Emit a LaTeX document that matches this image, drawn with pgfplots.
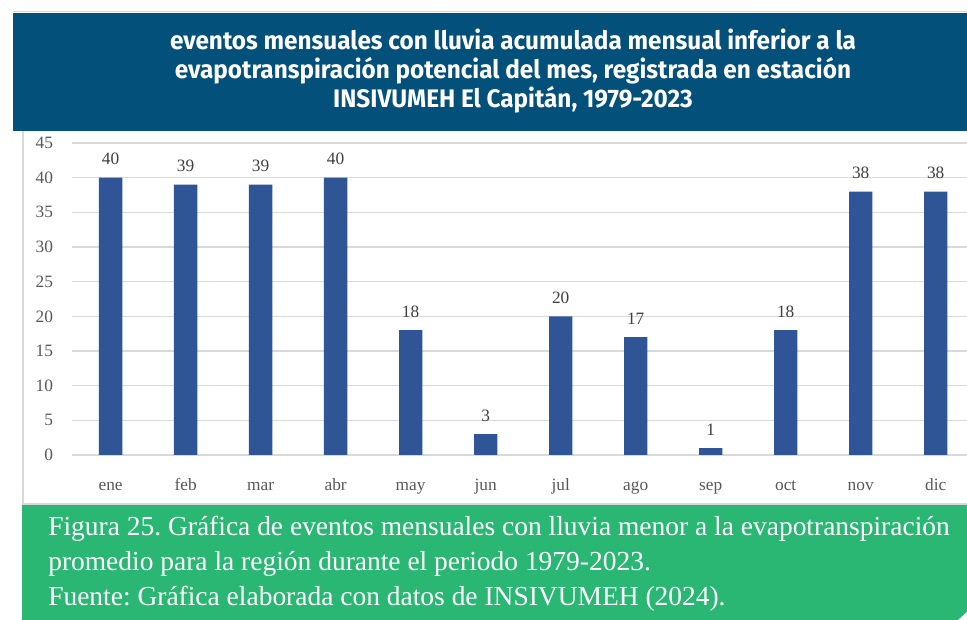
\documentclass[border=0pt]{standalone}
\usepackage{fontspec}
\setmainfont{Liberation Serif}
\newfontfamily\titlefont[FakeStretch=0.96]{Fira Sans}
\usepackage{pgfplots}
\pgfplotsset{compat=1.18}
\definecolor{banner}{RGB}{3,80,122}
\definecolor{greenbox}{RGB}{42,183,115}
\definecolor{barblue}{RGB}{47,85,151}
\definecolor{gridgray}{RGB}{217,217,217}
\definecolor{ticklab}{RGB}{89,89,89}
\definecolor{datalab}{RGB}{64,64,64}
\frenchspacing
\begin{document}
\begin{tikzpicture}
\useasboundingbox (0,0) rectangle (725.25pt,465pt);
\fill[white] (0,0) rectangle (725.25pt,465pt);
\begin{scope}[x=0.75pt,y=0.75pt]
\draw[gridgray, line width=0.75pt] (13,608) -- (967,608);
\fill[banner] (13,607) rectangle (967,489);
\draw[gridgray, line width=1.2pt] (22.7,489) -- (22.7,116) -- (967,116);
\fill[greenbox] (22,115) rectangle (967,0);
\fill[white] (958,0) -- (967,0) -- (967,8) -- cycle;
\begin{scope}[every node/.style={anchor=base, inner sep=0pt, text=white, font=\titlefont\bfseries\fontsize{19}{19}\selectfont}]
\node at (513,570) {eventos mensuales con lluvia acumulada mensual inferior a la};
\node at (513,541.5) {evapotranspiración potencial del mes, registrada en estación};
\node at (513,512) {INSIVUMEH El Capitán, 1979-2023};
\end{scope}
\begin{scope}[every node/.style={anchor=base west, inner sep=0pt, text=white, font=\fontsize{20.6}{20.6}\selectfont}]
\node at (48,84) {Figura 25. Gráfica de eventos mensuales con lluvia menor a la evapotranspiración};
\node at (48,49) {promedio para la región durante el periodo 1979-2023.};
\node at (48,14) {Fuente: Gráfica elaborada con datos de INSIVUMEH (2024).};
\end{scope}
\end{scope}
\begin{axis}[
  at={(54pt,123.75pt)}, anchor=south west,
  scale only axis, width=671.25pt, height=234pt,
  xmin=-0.515, xmax=11.417, ymin=0, ymax=45,
  enlargelimits=false,
  /pgf/number format/assume math mode=true,
  axis line style={draw=none}, tick style={draw=none},
  ymajorgrids, grid style={gridgray, line width=0.9pt},
  xtick={0,1,2,3,4,5,6,7,8,9,10,11},
  xticklabels={ene,feb,mar,abr,may,jun,jul,ago,sep,oct,nov,dic},
  ytick={0,5,10,15,20,25,30,35,40,45},
  yticklabel style={anchor=east, inner sep=0pt, xshift=-14pt, text=ticklab, font=\fontsize{13}{13}\selectfont},
  xticklabel style={anchor=base, inner sep=0pt, yshift=-22.5pt, text=ticklab, font=\fontsize{13}{13}\selectfont},
  ybar, bar width=17.5pt,
  nodes near coords,
  every node near coord/.append style={anchor=base, inner sep=0pt, yshift=9.75pt, text=datalab, font=\fontsize{13}{13}\selectfont},
]
\addplot[fill=barblue, draw=none] coordinates {
(0,40) (1,39) (2,39) (3,40) (4,18) (5,3) (6,20) (7,17) (8,1) (9,18) (10,38) (11,38)};
\end{axis}
\end{tikzpicture}
\end{document}
